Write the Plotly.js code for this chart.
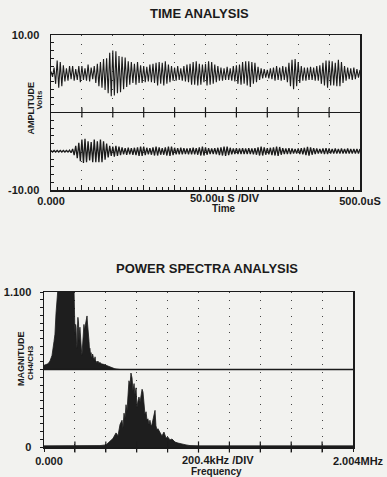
<!DOCTYPE html>
<html>
<head>
<meta charset="utf-8">
<script src="https://cdn.plot.ly/plotly-3.0.1.min.js"></script>
<style>
  html, body { margin: 0; padding: 0; background: #f2f2ef; }
  #chart { width: 387px; height: 477px; }
</style>
</head>
<body>
<div id="chart"></div>
<script>
// ---------- DATA ----------
// Time analysis: sampled every 2.5 uS from 0 to 500 uS (Volts, deviation from each trace's centre)
const timeStartUs = 0;
const timeStepUs = 2.5;
const ch4Volts = [
  0.3, -0.4, 0.8, -1.3, 1.7, -1.8, 1.5, -1.6, 1.1, -1.0,
  0.7, -0.9, 1.0, -0.7, 1.0, -0.9, 0.6, -0.8, 1.0, -1.1,
  1.0, -0.8, 0.7, -0.9, 1.2, -1.0, 0.8, -0.7, 1.0, -1.2,
  1.3, -1.6, 1.5, -1.8, 1.9, -2.1, 2.0, -2.5, 2.7, -2.9,
  3.0, -2.8, 2.9, -2.5, 2.3, -2.4, 2.2, -2.0, 2.1, -1.7,
  1.6, -1.4, 1.5, -1.2, 1.3, -1.4, 1.5, -1.2, 1.1, -1.2,
  1.0, -1.1, 0.9, -1.0, 1.2, -1.1, 1.3, -1.2, 1.4, -1.5,
  1.5, -1.3, 1.4, -1.5, 1.6, -1.3, 1.2, -1.1, 1.0, -0.9,
  0.8, -0.9, 1.0, -0.8, 0.7, -0.9, 1.0, -1.0, 1.2, -1.1,
  1.3, -1.4, 1.5, -1.4, 1.6, -1.5, 1.3, -1.4, 1.2, -1.1,
  1.3, -1.5, 1.6, -1.4, 1.5, -1.3, 1.2, -1.1, 1.0, -0.9,
  0.8, -0.9, 0.7, -0.8, 0.9, -0.8, 0.7, -0.9, 1.0, -1.0,
  1.1, -1.3, 1.2, -1.4, 1.5, -1.3, 1.6, -1.5, 1.6, -1.7,
  1.5, -1.3, 1.4, -1.1, 0.9, -0.8, 0.7, -0.6, 0.6, -0.5,
  0.5, -0.6, 0.7, -0.7, 0.8, -0.9, 1.0, -0.8, 0.8, -0.9,
  1.0, -0.8, 0.9, -1.1, 1.4, -1.6, 1.8, -2.0, 1.9, -1.6,
  1.5, -1.2, 1.0, -0.9, 0.8, -0.9, 0.8, -0.8, 0.9, -0.8,
  0.8, -0.9, 1.0, -0.9, 1.1, -1.3, 1.4, -1.5, 1.7, -1.8,
  1.7, -1.5, 1.6, -1.5, 1.4, -1.6, 1.8, -1.6, 1.5, -1.2,
  1.0, -0.9, 0.8, -0.7, 0.7, -0.8, 0.8, -0.7, 0.6, -0.5,
  0.5
];
const ch3Volts = [
  0.1, -0.1, 0.1, -0.1, 0.1, -0.1, 0.1, -0.1, 0.1, -0.1,
  0.1, -0.1, 0.15, -0.2, 0.3, -0.5, 0.7, -0.9, 1.1, -1.3,
  1.5, -1.5, 1.6, -1.4, 1.3, -1.2, 1.2, -1.4, 1.5, -1.4,
  1.3, -1.4, 1.5, -1.4, 1.3, -1.1, 1.0, -0.8, 0.7, -0.6,
  0.6, -0.7, 0.7, -0.6, 0.6, -0.5, 0.5, -0.4, 0.4, -0.45,
  0.45, -0.4, 0.4, -0.45, 0.45, -0.5, 0.5, -0.6, 0.6, -0.6,
  0.6, -0.5, 0.45, -0.4, 0.4, -0.45, 0.5, -0.55, 0.6, -0.55,
  0.5, -0.45, 0.4, -0.45, 0.5, -0.55, 0.6, -0.6, 0.6, -0.5,
  0.45, -0.4, 0.4, -0.4, 0.45, -0.4, 0.4, -0.35, 0.35, -0.4,
  0.4, -0.4, 0.45, -0.4, 0.4, -0.45, 0.5, -0.55, 0.6, -0.55,
  0.5, -0.45, 0.4, -0.35, 0.35, -0.35, 0.4, -0.4, 0.45, -0.5,
  0.5, -0.55, 0.6, -0.6, 0.6, -0.5, 0.45, -0.4, 0.35, -0.35,
  0.4, -0.35, 0.35, -0.35, 0.4, -0.35, 0.35, -0.35, 0.4, -0.35,
  0.35, -0.4, 0.4, -0.45, 0.5, -0.55, 0.6, -0.55, 0.5, -0.45,
  0.4, -0.4, 0.45, -0.5, 0.5, -0.55, 0.6, -0.6, 0.55, -0.45,
  0.4, -0.35, 0.35, -0.35, 0.4, -0.35, 0.35, -0.3, 0.3, -0.3,
  0.35, -0.35, 0.4, -0.4, 0.45, -0.5, 0.55, -0.55, 0.5, -0.45,
  0.4, -0.35, 0.35, -0.3, 0.3, -0.3, 0.35, -0.35, 0.4, -0.35,
  0.35, -0.3, 0.3, -0.3, 0.35, -0.3, 0.3, -0.3, 0.35, -0.3,
  0.3, -0.3, 0.35, -0.3, 0.3, -0.3, 0.3, -0.3, 0.3, -0.3,
  0.3
];

// Power spectra: frequency in kHz, magnitude (CH4/CH3)
const specUpperFreqKHz = [
  0, 13, 26, 39, 52, 65, 71, 78, 84, 91, 97, 104, 120, 140, 160, 180, 188, 195,
  201, 205, 208, 211, 214, 217, 220, 224, 227, 230, 233, 237, 240, 244, 246, 250,
  253, 256, 259, 262, 266, 269, 272, 276, 279, 282, 285, 289, 292, 295, 298, 302,
  305, 308, 311, 315, 318, 321, 324, 328, 331, 334, 337, 343, 350, 356, 363, 373,
  383, 392, 402, 415, 428, 445, 460, 493, 2004
];
const specUpperMag = [
  0.03, 0.035, 0.04, 0.06, 0.10, 0.2, 0.25, 0.4, 0.5, 0.7, 0.9, 1.0, 1.0, 1.0, 1.0, 1.0, 0.9, 0.6,
  0.25, 0.32, 0.3, 0.18, 0.15, 0.3, 0.37, 0.33, 0.2, 0.26, 0.3, 0.2, 0.14, 0.12, 0.1, 0.16,
  0.2, 0.26, 0.32, 0.28, 0.3, 0.34, 0.33, 0.37, 0.38, 0.33, 0.3, 0.22, 0.2, 0.14, 0.15, 0.1,
  0.12, 0.08, 0.09, 0.11, 0.1, 0.07, 0.08, 0.06, 0.09, 0.06, 0.06, 0.05, 0.06, 0.045, 0.05, 0.04,
  0.04, 0.035, 0.03, 0.025, 0.015, 0.01, 0.005, 0, 0
];
const specLowerFreqKHz = [
  0, 100, 200, 300, 363, 402, 428, 447, 467, 480, 493, 506, 512, 519, 525, 532, 538,
  545, 551, 558, 564, 571, 577, 584, 590, 597, 603, 610, 616, 623, 629, 636, 642,
  649, 655, 662, 668, 674, 681, 687, 694, 700, 707, 713, 720, 726, 733, 739, 752,
  765, 778, 791, 804, 817, 830, 850, 869, 895, 921, 947, 1012, 2004
];
const specLowerMag = [
  0.008, 0.008, 0.008, 0.008, 0.01, 0.015, 0.04, 0.06, 0.1, 0.08, 0.16, 0.19, 0.135, 0.24, 0.2, 0.3, 0.25,
  0.4, 0.47, 0.44, 0.525, 0.49, 0.4, 0.45, 0.37, 0.42, 0.28, 0.33, 0.355, 0.32, 0.37, 0.41, 0.39,
  0.26, 0.23, 0.25, 0.19, 0.2, 0.16, 0.19, 0.15, 0.16, 0.2, 0.23, 0.26, 0.15, 0.12, 0.13, 0.1,
  0.078, 0.106, 0.064, 0.07, 0.05, 0.057, 0.035, 0.028, 0.02, 0.015, 0.01, 0.008, 0.008
];

// Axis texts
const timeDivisions = 10;
const timeRangeUs = [0, 500];
const timeEndLabels = ['0.000', '500.0uS'];
const ampRange = [-10, 10];
const ampEndLabels = ['-10.00', '10.00'];
const freqRangeKHz = [0, 2004];
const freqEndLabels = ['0.000', '2.004MHz'];
const magRange = [0, 1.1];
const magEndLabels = ['0', '1.100'];

// ---------- LAYOUT HELPERS ----------
const W = 387, H = 477;
const px = v => v / W;
const py = v => 1 - v / H;
const INK = '#1b1b1b';
const BG = '#f2f2ef';
const FONT = 'Liberation Sans, Arial, sans-serif';

const topOffset = 5, botOffset = -5;       // trace positions on the time screen
const upperBase = magRange[1] / 2;          // upper spectrum sits on the mid line

function steps(range, n) {
  const out = [];
  for (let i = 0; i <= n; i++) out.push(range[0] + (range[1] - range[0]) * i / n);
  return out;
}
function endText(vals, labels) {
  return vals.map((v, i) => i === 0 ? labels[0] : (i === vals.length - 1 ? labels[1] : ''));
}

const timeDivs = steps(timeRangeUs, timeDivisions);
const freqDivs = steps(freqRangeKHz, timeDivisions);
const ampTicks = steps(ampRange, 20);
const magTicks = steps(magRange, 20);

const traces = [
  { // CH4 time trace (upper)
    type: 'scatter', mode: 'lines', xaxis: 'x', yaxis: 'y',
    x0: timeStartUs, dx: timeStepUs,
    y: ch4Volts.map(v => v + topOffset),
    line: { color: INK, width: 1.1 }, hoverinfo: 'skip'
  },
  { // CH3 time trace (lower)
    type: 'scatter', mode: 'lines', xaxis: 'x', yaxis: 'y',
    x0: timeStartUs, dx: timeStepUs,
    y: ch3Volts.map(v => v + botOffset),
    line: { color: INK, width: 1.3 }, hoverinfo: 'skip'
  },
  { // division marks on the centre line
    type: 'scatter', mode: 'markers', xaxis: 'x', yaxis: 'y',
    x: timeDivs.slice(1, -1), y: timeDivs.slice(1, -1).map(() => 0),
    marker: { symbol: 'line-ns', size: 7, line: { color: INK, width: 1.2 } },
    hoverinfo: 'skip'
  },
  { // spectrum mid line
    type: 'scatter', mode: 'lines', xaxis: 'x2', yaxis: 'y2',
    x: freqRangeKHz, y: [upperBase, upperBase],
    line: { color: INK, width: 1.6 }, hoverinfo: 'skip'
  },
  { // upper spectrum
    type: 'scatter', mode: 'lines', xaxis: 'x2', yaxis: 'y2',
    x: specUpperFreqKHz, y: specUpperMag.map(v => v + upperBase),
    fill: 'tonexty', fillcolor: '#1e1e1e',
    line: { color: INK, width: 0.8 }, hoverinfo: 'skip'
  },
  { // lower spectrum
    type: 'scatter', mode: 'lines', xaxis: 'x2', yaxis: 'y2',
    x: specLowerFreqKHz, y: specLowerMag,
    fill: 'tozeroy', fillcolor: '#1e1e1e',
    line: { color: INK, width: 0.8 }, hoverinfo: 'skip'
  },
  { // division marks on the base line
    type: 'scatter', mode: 'markers', xaxis: 'x2', yaxis: 'y2',
    x: freqDivs.slice(1, -1), y: freqDivs.slice(1, -1).map(() => 0),
    marker: { symbol: 'line-ns', size: 8, line: { color: INK, width: 1.2 } },
    cliponaxis: false, hoverinfo: 'skip'
  }
];

const axisCommon = {
  showline: true, mirror: true, linecolor: INK, linewidth: 1.5,
  zeroline: false, tickcolor: INK,
  tickfont: { family: FONT, size: 11, color: INK, weight: 'bold' },
  fixedrange: true
};

const layout = {
  width: W, height: H,
  margin: { l: 0, r: 0, t: 0, b: 0 },
  paper_bgcolor: BG, plot_bgcolor: BG,
  showlegend: false,
  xaxis: Object.assign({}, axisCommon, {
    domain: [px(51), px(360)], anchor: 'y', range: timeRangeUs,
    tickmode: 'array', tickvals: timeDivs, ticktext: endText(timeDivs, timeEndLabels),
    ticks: 'inside', ticklen: 5, tickwidth: 1,
    minor: { tickmode: 'linear', tick0: 0, dtick: 10, ticks: 'inside', ticklen: 3, tickcolor: INK, showgrid: false },
    showgrid: true, gridcolor: '#444', gridwidth: 1, griddash: '1px,8px'
  }),
  yaxis: Object.assign({}, axisCommon, {
    domain: [py(190), py(35)], anchor: 'x', range: ampRange,
    tickmode: 'array', tickvals: ampTicks, ticktext: endText(ampTicks, ampEndLabels),
    ticks: 'inside', ticklen: 3, tickwidth: 1, ticklabelstandoff: 8,
    showgrid: false,
    zeroline: true, zerolinecolor: INK, zerolinewidth: 1.5
  }),
  xaxis2: Object.assign({}, axisCommon, {
    domain: [px(44), px(353)], anchor: 'y2', range: freqRangeKHz,
    tickmode: 'array', tickvals: freqDivs, ticktext: endText(freqDivs, freqEndLabels),
    ticks: 'outside', ticklen: 3, tickwidth: 1, ticklabelshift: 5,
    showgrid: true, gridcolor: '#444', gridwidth: 1, griddash: '1px,7px'
  }),
  yaxis2: Object.assign({}, axisCommon, {
    domain: [py(447), py(292)], anchor: 'x2', range: magRange,
    tickmode: 'array', tickvals: magTicks, ticktext: endText(magTicks, magEndLabels),
    ticks: 'outside', ticklen: 3, tickwidth: 1, ticklabelstandoff: 6,
    showgrid: false
  }),
  annotations: [
    { text: 'TIME ANALYSIS', x: px(200), y: py(14), size: 13 },
    { text: 'POWER SPECTRA ANALYSIS', x: px(207), y: py(268), size: 13 },
    { text: '50.00u S /DIV', x: px(225), y: py(198), size: 11 },
    { text: 'Time', x: px(224), y: py(208), size: 10 },
    { text: '200.4kHz /DIV', x: px(218), y: py(460), size: 11 },
    { text: 'Frequency', x: px(217), y: py(471), size: 10 },
    { text: 'AMPLITUDE', x: px(30.5), y: py(108), size: 9, angle: -90 },
    { text: 'Volts', x: px(38.5), y: py(100), size: 8, angle: -90 },
    { text: 'MAGNITUDE', x: px(21), y: py(359), size: 9, angle: -90 },
    { text: 'CH4/CH3', x: px(30), y: py(363), size: 8, angle: -90 }
  ].map(a => ({
    text: a.text, x: a.x, y: a.y, xref: 'paper', yref: 'paper',
    xanchor: 'center', yanchor: 'middle', showarrow: false,
    textangle: a.angle || 0,
    font: { family: FONT, size: a.size, color: INK, weight: 'bold' }
  }))
};

Plotly.newPlot('chart', traces, layout, { staticPlot: true, displayModeBar: false });
</script>
</body>
</html>
